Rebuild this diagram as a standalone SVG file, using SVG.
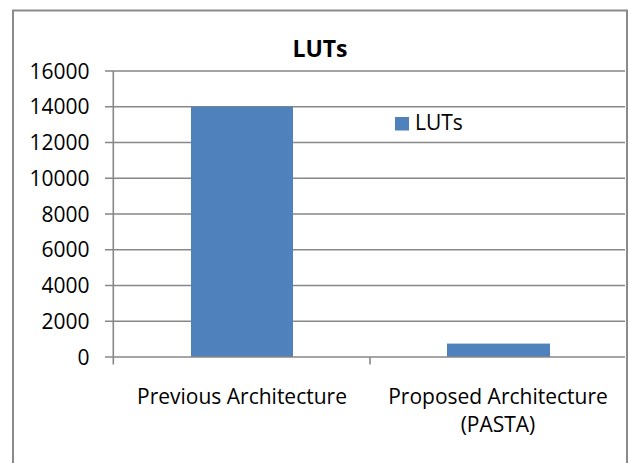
<svg xmlns="http://www.w3.org/2000/svg" width="629" height="463" viewBox="0 0 629 463">
<style>
  text { font-family: "Open Sans", "Liberation Sans", sans-serif; fill: #000; }
  .lbl { font-size: 21px; }
  .ylbl { font-size: 21px; text-anchor: end; }
  .cat { font-size: 21px; text-anchor: middle; }
  .title { font-size: 23px; font-weight: bold; text-anchor: middle; }
  .grid { stroke: #878787; stroke-width: 1.6; fill: none; }
  .axis { stroke: #878787; stroke-width: 1.6; fill: none; }
  .bar { fill: #4f81bd; }
  .frame { stroke: #8a8a8a; stroke-width: 2; fill: none; }
</style>
<rect x="0" y="0" width="629" height="463" fill="#ffffff"/>
<g id="frame">
  <path class="frame" d="M13,470 V10.5 H627 V470"/>
</g>
<g id="title">
  <text class="title" x="320" y="56.7">LUTs</text>
</g>
<g id="gridlines">
  <path class="grid" d="M105,71 H625 M105,106.75 H625 M105,142.5 H625 M105,178.25 H625 M105,214 H625 M105,249.75 H625 M105,285.5 H625 M105,321.25 H625"/>
</g>
<g id="bars">
  <rect id="bar-previous" class="bar" x="191" y="106.75" width="102" height="250.25"/>
  <rect id="bar-proposed" class="bar" x="447" y="343.6" width="103" height="13.4"/>
</g>
<g id="axes">
  <path class="axis" d="M113.3,71 V364.5"/>
  <path class="axis" d="M105,357 H625"/>
  <path class="axis" d="M370,357 V364.5"/>
</g>
<g id="y-labels">
  <text class="ylbl" x="89.5" y="78.5">16000</text>
  <text class="ylbl" x="89.5" y="114.25">14000</text>
  <text class="ylbl" x="89.5" y="150">12000</text>
  <text class="ylbl" x="89.5" y="185.75">10000</text>
  <text class="ylbl" x="89.5" y="221.5">8000</text>
  <text class="ylbl" x="89.5" y="257.25">6000</text>
  <text class="ylbl" x="89.5" y="293">4000</text>
  <text class="ylbl" x="89.5" y="328.75">2000</text>
  <text class="ylbl" x="89.5" y="364.5">0</text>
</g>
<g id="x-labels">
  <text class="cat" x="242" y="404">Previous Architecture</text>
  <text class="cat" x="498" y="403.5">Proposed Architecture</text>
  <text class="cat" x="498" y="431.5">(PASTA)</text>
</g>
<g id="legend">
  <rect class="bar" x="395" y="117" width="14" height="13.5"/>
  <text class="lbl" x="415" y="129.5">LUTs</text>
</g>
</svg>
